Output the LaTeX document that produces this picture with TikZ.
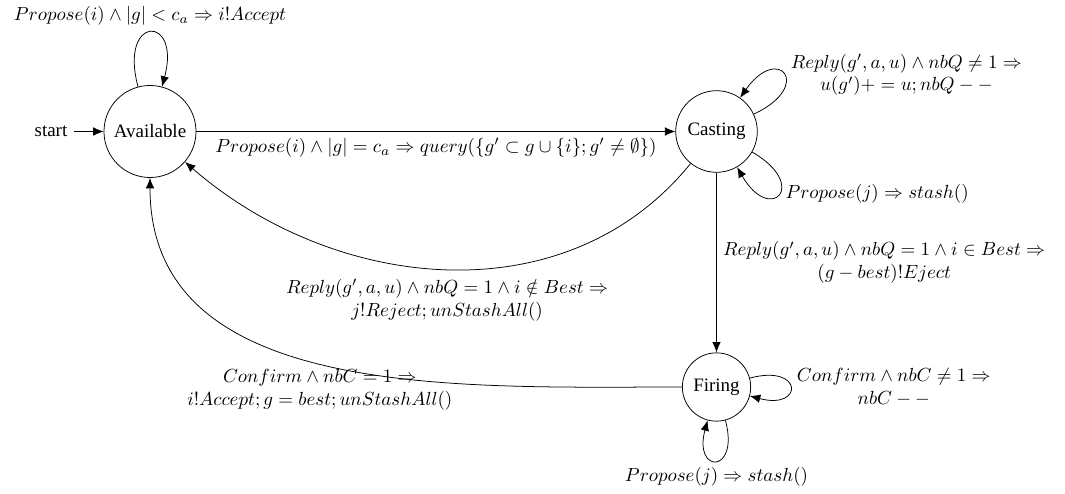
\documentclass[tikz,border=0pt]{standalone}
\usepackage[no-math]{fontspec}
\setmainfont{Liberation Serif}
\usetikzlibrary{arrows.meta}
\begin{document}
\begin{tikzpicture}[x=0.527pt, y=0.527pt,
  >={Latex[length=5.5pt,width=4.5pt]},
  stnode/.style={circle, draw, inner sep=0pt},
  lbl/.style={align=center}]
\useasboundingbox (0,0) rectangle (1065,493);
\node[stnode, minimum size=48.5pt] (A) at (150,361.5) {Available};
\node[stnode, minimum size=43pt] (C) at (716.5,361.5) {Casting};
\node[stnode, minimum size=36pt] (F) at (716.5,106) {Firing};
\node (st) at (51,361.5) {start};
\draw[->] (st) -- (A);
\draw[->] (A) to[loop above] node[above] {$Propose(i) \wedge |g| < c_a \Rightarrow i!Accept$} (A);
\draw[->] (A) -- node[below] {$Propose(i) \wedge |g| = c_a \Rightarrow query(\{g' \subset g \cup \{i\}; g' \neq \emptyset\})$} (C);
\draw[->] (C) to[out=25, in=55, loop] node[right, lbl] {$Reply(g',a,u) \wedge nbQ \neq 1 \Rightarrow$\\$u(g')+=u; nbQ--$} (C);
\draw[->] (C) to[out=-30, in=-60, loop] node[right] {$Propose(j) \Rightarrow stash()$} (C);
\draw[->] (C) to[out=231, in=-41, looseness=1] node[below, lbl, yshift=-2pt] {$Reply(g',a,u) \wedge nbQ = 1 \wedge i \notin Best \Rightarrow$\\$j!Reject; unStashAll()$} (A);
\draw[->] (C) -- node[right, lbl] {$Reply(g',a,u) \wedge nbQ = 1 \wedge i \in Best \Rightarrow$\\$(g-best)!Eject$} (F);
\draw[->] (F) to[out=180, in=-90] node[pos=0.52, below, lbl] {$Confirm \wedge nbC = 1 \Rightarrow$\\$i!Accept; g = best; unStashAll()$} (A);
\draw[->] (F) to[loop right] node[right, lbl] {$Confirm \wedge nbC \neq 1 \Rightarrow$\\$nbC--$} (F);
\draw[->] (F) to[loop below] node[below] {$Propose(j) \Rightarrow stash()$} (F);
\end{tikzpicture}
\end{document}
